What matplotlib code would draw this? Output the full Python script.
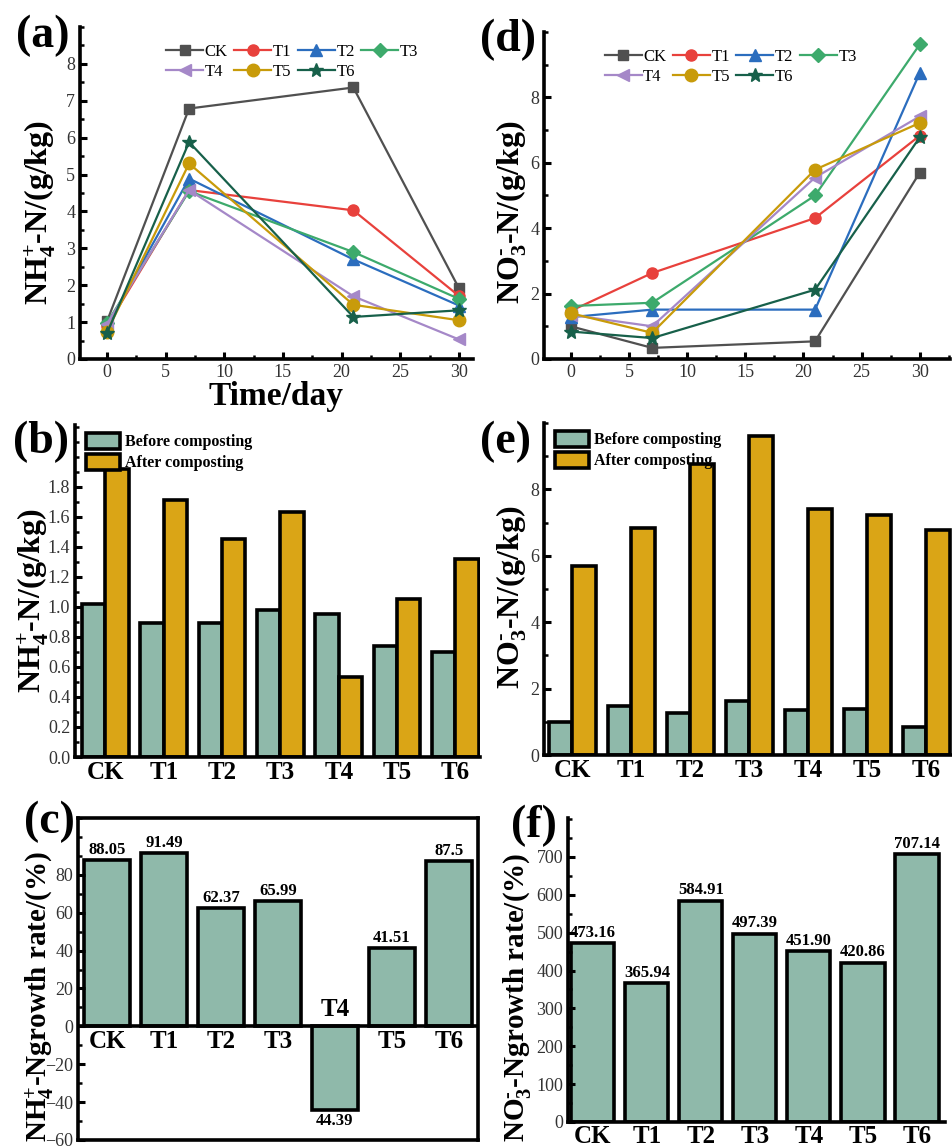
import matplotlib
matplotlib.use("Agg")
import matplotlib.pyplot as plt
from matplotlib.ticker import MultipleLocator
from matplotlib.patches import Patch

plt.rcParams['font.family'] = ['Liberation Serif', 'DejaVu Serif']
plt.rcParams['mathtext.fontset'] = 'custom'
plt.rcParams['mathtext.rm'] = 'Liberation Serif'
plt.rcParams['mathtext.bf'] = 'Liberation Serif:bold'
plt.rcParams['mathtext.it'] = 'Liberation Serif:italic'

# ---------------- data ----------------
days = [0, 7, 21, 30]
series = ['CK', 'T1', 'T2', 'T3', 'T4', 'T5', 'T6']
nh4_CK = [1.02, 6.79, 7.36, 1.92]
nh4_T1 = [0.89, 4.58, 4.03, 1.71]
nh4_T2 = [0.89, 4.89, 2.70, 1.45]
nh4_T3 = [0.98, 4.55, 2.90, 1.63]
nh4_T4 = [0.95, 4.58, 1.70, 0.53]
nh4_T5 = [0.74, 5.30, 1.47, 1.05]
nh4_T6 = [0.70, 5.88, 1.14, 1.32]

no3_CK = [1.00, 0.34, 0.54, 5.70]
no3_T1 = [1.47, 2.63, 4.31, 6.83]
no3_T2 = [1.28, 1.51, 1.51, 8.75]
no3_T3 = [1.62, 1.72, 5.00, 9.62]
no3_T4 = [1.35, 1.00, 5.55, 7.42]
no3_T5 = [1.40, 0.80, 5.79, 7.22]
no3_T6 = [0.84, 0.64, 2.12, 6.78]

nh4_before = [1.02, 0.89, 0.89, 0.98, 0.95, 0.74, 0.70]
nh4_after = [1.92, 1.71, 1.45, 1.63, 0.53, 1.05, 1.32]
no3_before = [1.00, 1.47, 1.28, 1.62, 1.35, 1.40, 0.84]
no3_after = [5.70, 6.83, 8.75, 9.60, 7.40, 7.22, 6.78]

nh4_growth = [88.05, 91.49, 62.37, 65.99, -44.39, 41.51, 87.5]
nh4_growth_labels = ['88.05', '91.49', '62.37', '65.99', '44.39', '41.51', '87.5']
no3_growth = [473.16, 365.94, 584.91, 497.39, 451.90, 420.86, 707.14]
no3_growth_labels = ['473.16', '365.94', '584.91', '497.39', '451.90', '420.86', '707.14']

# ---------------- styles ----------------
line_colors = ['#505050', '#E8413C', '#2B6DBE', '#3DAA6C', '#A588C8', '#C89B0A', '#17604A']
markers = ['s', 'o', '^', 'D', '<', 'o', '*']
msizes = [7, 8, 8, 7, 8, 9, 10]
c_before = '#8FB9AA'
c_after = '#DAA516'

W, H = 953, 1148
fig = plt.figure(figsize=(W / 100, H / 100), dpi=100)


def add_ax(l, r, t, b):
    return fig.add_axes([l / W, 1 - b / H, (r - l) / W, (b - t) / H])


def style_ax(ax, box=False):
    for s in ['left', 'bottom', 'top', 'right']:
        ax.spines[s].set_linewidth(2.6)
    if not box:
        ax.spines['top'].set_visible(False)
        ax.spines['right'].set_visible(False)
    ax.tick_params(axis='both', which='major', direction='in', length=5, width=2.2,
                   labelsize=13, labelcolor='#333333')
    ax.tick_params(axis='both', which='minor', direction='in', length=3, width=1.8)


def ylab(x, y, text, size=22):
    fig.text(x / W, 1 - y / H, text, rotation=90, ha='center', va='center',
             fontsize=size, fontweight='bold')


def panel(x, y, text):
    fig.text(x / W, 1 - y / H, text, ha='left', va='center', fontsize=33, fontweight='bold')


def row_legend(ax, anchor):
    h, l = ax.get_legend_handles_labels()
    order = [0, 4, 1, 5, 2, 6, 3]  # fill rows: CK T1 T2 T3 / T4 T5 T6
    ax.legend([h[i] for i in order], [l[i] for i in order], ncol=4, frameon=False,
              loc='upper center', bbox_to_anchor=anchor, fontsize=12, handlelength=2.2,
              handletextpad=0.1, columnspacing=0.4, labelspacing=0.25, borderpad=0.2)


nh4_lab = r'NH$_{\mathbf{4}}^{\mathbf{+}}$-N/(g/kg)'
no3_lab = r'NO$_{\mathbf{3}}^{\text{-}}$-N/(g/kg)'

# ---------------- (a) ----------------
ax = add_ax(80, 473, 27, 359)
for name, ys, c, m, ms in zip(series, [nh4_CK, nh4_T1, nh4_T2, nh4_T3, nh4_T4, nh4_T5, nh4_T6],
                              line_colors, markers, msizes):
    ax.plot(days, ys, color=c, marker=m, markersize=ms, lw=1.6, label=name)
ax.set_xlim(-2.3, 31.2)
ax.set_ylim(0, 9)
ax.xaxis.set_major_locator(MultipleLocator(5))
ax.xaxis.set_minor_locator(MultipleLocator(2.5))
ax.set_yticks(range(0, 9))
ax.yaxis.set_minor_locator(MultipleLocator(0.5))
style_ax(ax)
row_legend(ax, (0.54, 0.985))
ax.set_xlabel('Time/day', fontsize=24, fontweight='bold', labelpad=0)
ylab(40, 212, nh4_lab, 23)
panel(16, 36, '(a)')

# ---------------- (d) ----------------
ax = add_ax(544, 950, 32, 359)
for name, ys, c, m, ms in zip(series, [no3_CK, no3_T1, no3_T2, no3_T3, no3_T4, no3_T5, no3_T6],
                              line_colors, markers, msizes):
    ax.plot(days, ys, color=c, marker=m, markersize=ms, lw=1.6, label=name)
ax.set_xlim(-2.3, 32.6)
ax.set_ylim(0, 10)
ax.xaxis.set_major_locator(MultipleLocator(5))
ax.xaxis.set_minor_locator(MultipleLocator(2.5))
ax.set_yticks([0, 2, 4, 6, 8])
ax.yaxis.set_minor_locator(MultipleLocator(1))
style_ax(ax)
row_legend(ax, (0.46, 0.985))
ylab(512, 212, no3_lab, 23)
panel(480, 40, '(d)')


def grouped(ax, before, after):
    x = list(range(len(series)))
    w = 0.4
    ax.bar([i - w / 2 for i in x], before, width=w, color=c_before, edgecolor='black', linewidth=2.6)
    ax.bar([i + w / 2 for i in x], after, width=w, color=c_after, edgecolor='black', linewidth=2.6)
    ax.set_xticks(x)
    ax.set_xticklabels(series, fontsize=18, fontweight='bold')
    ax.tick_params(axis='x', length=0, pad=3, labelcolor='black', labelsize=18)
    handles = [Patch(facecolor=c_before, edgecolor='black', linewidth=2.6, label='Before composting'),
               Patch(facecolor=c_after, edgecolor='black', linewidth=2.6, label='After composting')]
    ax.legend(handles=handles, loc='upper left', bbox_to_anchor=(0.0, 1.01), frameon=False,
              prop={'size': 11.5, 'weight': 'bold'}, handlelength=2.1, handleheight=1.2,
              handletextpad=0.3, labelspacing=0.2, borderpad=0.2)


# ---------------- (b) ----------------
ax = add_ax(75, 480, 425, 757)
style_ax(ax)
grouped(ax, nh4_before, nh4_after)
ax.set_xlim(-0.52, 6.42)
ax.set_ylim(0, 2.21)
ax.set_yticks([0.0, 0.2, 0.4, 0.6, 0.8, 1.0, 1.2, 1.4, 1.6, 1.8])
ax.set_yticklabels(['0.0', '0.2', '0.4', '0.6', '0.8', '1.0', '1.2', '1.4', '1.6', '1.8'])
ax.yaxis.set_minor_locator(MultipleLocator(0.1))
ylab(33, 600, nh4_lab, 23)
panel(13, 442, '(b)')

# ---------------- (e) ----------------
ax = add_ax(544, 953, 423, 755)
style_ax(ax)
grouped(ax, no3_before, no3_after)
ax.set_xlim(-0.48, 6.45)
ax.set_ylim(0, 10)
ax.set_yticks([0, 2, 4, 6, 8])
ax.yaxis.set_minor_locator(MultipleLocator(1))
ylab(512, 597, no3_lab, 23)
panel(480, 442, '(e)')

# ---------------- (c) ----------------
ax = add_ax(78, 478, 818, 1140)
style_ax(ax, box=True)
x = list(range(len(series)))
ax.bar(x, nh4_growth, width=0.82, color=c_before, edgecolor='black', linewidth=2.6)
ax.axhline(0, color='black', lw=2.6)
ax.set_xlim(-0.51, 6.51)
ax.set_ylim(-60, 110)
ax.set_yticks([-60, -40, -20, 0, 20, 40, 60, 80])
ax.yaxis.set_minor_locator(MultipleLocator(10))
ax.set_xticks([])
for i, v in enumerate(nh4_growth):
    if v >= 0:
        ax.text(i, v + 1, nh4_growth_labels[i], ha='center', va='bottom', fontsize=12, fontweight='bold')
        ax.text(i, -2, series[i], ha='center', va='top', fontsize=18, fontweight='bold')
    else:
        ax.text(i, v - 1.5, nh4_growth_labels[i], ha='center', va='top', fontsize=12, fontweight='bold')
        ax.text(i, 3, series[i], ha='center', va='bottom', fontsize=18, fontweight='bold')
ylab(40, 997, r'NH$_{\mathbf{4}}^{\mathbf{+}}$-Ngrowth rate/(%)', 21)
panel(24, 822, '(c)')

# ---------------- (f) ----------------
ax = add_ax(568, 945, 818, 1122)
style_ax(ax)
ax.bar(x, no3_growth, width=0.8, color=c_before, edgecolor='black', linewidth=2.6)
ax.set_xlim(-0.46, 6.52)
ax.set_ylim(0, 803)
ax.set_yticks(range(0, 800, 100))
ax.yaxis.set_minor_locator(MultipleLocator(50))
ax.set_xticks(x)
ax.set_xticklabels(series, fontsize=18, fontweight='bold')
ax.tick_params(axis='x', length=0, pad=2, labelcolor='black', labelsize=18)
for i, v in enumerate(no3_growth):
    ax.text(i, v + 6, no3_growth_labels[i], ha='center', va='bottom', fontsize=12, fontweight='bold')
ylab(518, 997, r'NO$_{\mathbf{3}}^{\text{-}}$-Ngrowth rate/(%)', 21)
panel(511, 826, '(f)')

fig.savefig('out.png', dpi=100)
